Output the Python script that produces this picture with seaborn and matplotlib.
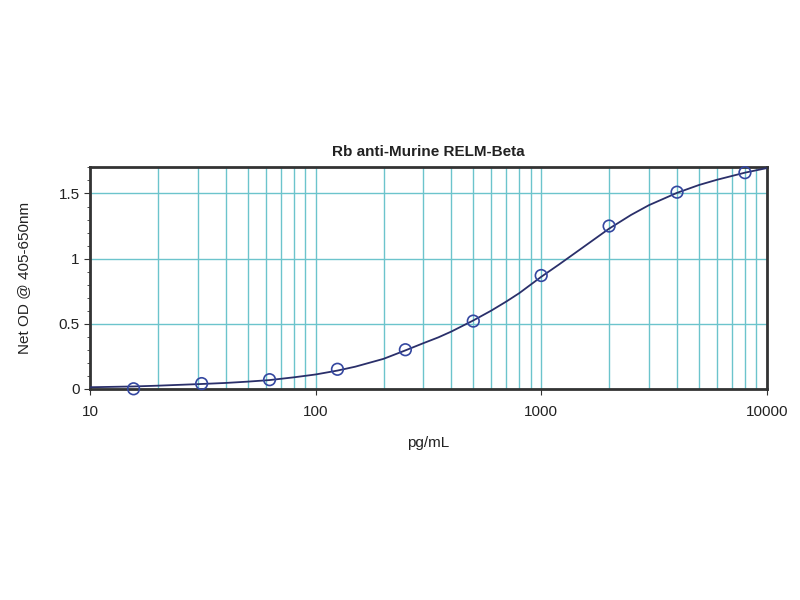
import matplotlib
matplotlib.use("Agg")
import matplotlib.pyplot as plt
import matplotlib.ticker as mticker
import seaborn as sns
import pandas as pd

# Standard points
conc = [15.6, 31.25, 62.5, 125, 250, 500, 1000, 2000, 4000, 8000]
od = [0.00, 0.04, 0.07, 0.15, 0.30, 0.52, 0.87, 1.25, 1.51, 1.66]

# Fitted curve
curve_x = [10, 15.6, 20, 31.25, 40, 50, 62.5, 80, 100, 125, 150, 200, 250, 300, 350,
           400, 500, 600, 700, 800, 1000, 1200, 1500, 2000, 2500, 3000, 4000, 5000,
           6000, 8000, 10000]
curve_y = [0.012, 0.018, 0.024, 0.037, 0.045, 0.055, 0.067, 0.088, 0.110, 0.140,
           0.170, 0.230, 0.295, 0.350, 0.395, 0.440, 0.525, 0.600, 0.670, 0.735,
           0.860, 0.955, 1.075, 1.230, 1.335, 1.410, 1.505, 1.565, 1.605, 1.660, 1.695]

title = "Rb anti-Murine RELM-Beta"
xlabel = "pg/mL"
ylabel = "Net OD @ 405-650nm"
yticks = [0, 0.5, 1, 1.5]
ytick_labels = ["0", "0.5", "1", "1.5"]
xticks = [10, 100, 1000, 10000]
xtick_labels = ["10", "100", "1000", "10000"]

sns.set_style("white")
plt.rcParams['font.family'] = ['Liberation Sans', 'DejaVu Sans']

fig = plt.figure(figsize=(8, 6), dpi=100)
ax = fig.add_axes([0.1125, 0.352, 0.846, 0.370])

df_pts = pd.DataFrame({"conc": conc, "od": od})
df_curve = pd.DataFrame({"x": curve_x, "y": curve_y})

ax.set_xscale("log")
ax.set_xlim(10, 10000)
ax.set_ylim(0, 1.705)

grid_col = "#6cc4cc"
ax.xaxis.set_minor_locator(mticker.LogLocator(base=10, subs=range(2, 10)))
ax.grid(True, which="both", axis="x", color=grid_col, linewidth=1.0)
ax.grid(True, which="major", axis="y", color=grid_col, linewidth=1.0)
ax.set_axisbelow(True)

sns.lineplot(data=df_curve, x="x", y="y", ax=ax, color="#2a2f6a", linewidth=1.3, zorder=3)
sns.scatterplot(data=df_pts, x="conc", y="od", ax=ax, marker="o", s=70,
                facecolor="none", edgecolor="#3447a0", linewidth=1.2, zorder=4,
                clip_on=False)

ax.set_yticks(yticks)
ax.set_yticklabels(ytick_labels)
ax.yaxis.set_minor_locator(mticker.MultipleLocator(0.1))
ax.set_xticks(xticks)
ax.set_xticklabels(xtick_labels)
ax.xaxis.set_minor_formatter(mticker.NullFormatter())

ax.tick_params(axis="both", which="major", labelsize=11, length=4, direction="out",
               color="#333333", labelcolor="#222222", bottom=True, left=True)
ax.tick_params(axis="x", which="major", pad=8)
ax.tick_params(axis="y", which="minor", length=2, direction="out", color="#333333", left=True)
ax.tick_params(axis="x", which="minor", length=0)

for sp in ax.spines.values():
    sp.set_visible(True)
    sp.set_color("#333333")
    sp.set_linewidth(2.0)

ax.set_title(title, fontsize=11, fontweight="bold", color="#222222", pad=8)
ax.set_xlabel(xlabel, fontsize=11, color="#222222", labelpad=12)
ax.set_ylabel(ylabel, fontsize=11, color="#222222", labelpad=20)

fig.savefig("out.png", dpi=100)
